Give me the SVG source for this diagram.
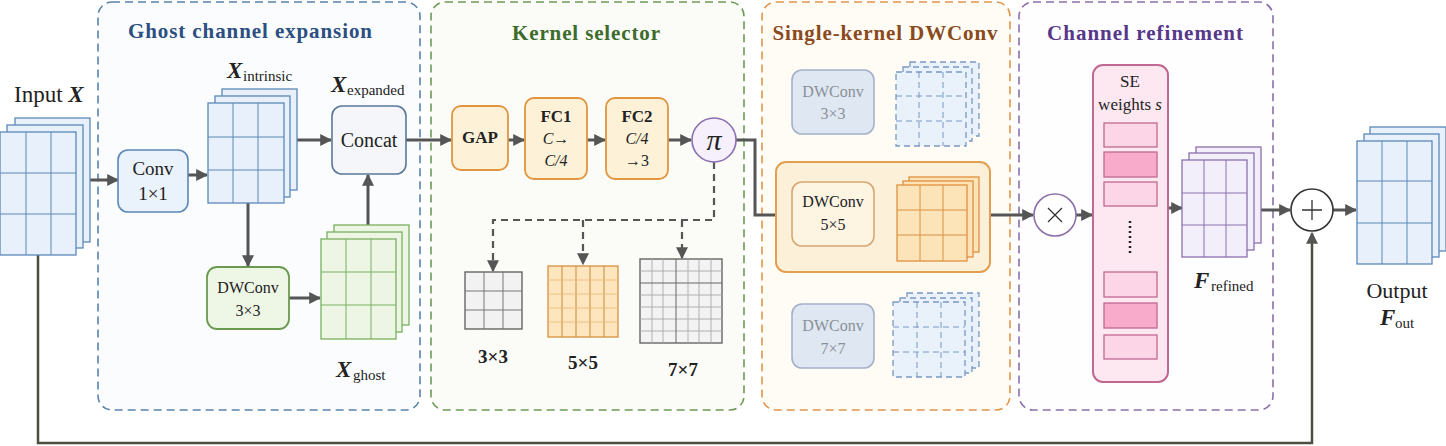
<svg xmlns="http://www.w3.org/2000/svg" width="1446" height="446" viewBox="0 0 1446 446" font-family="Times New Roman, Liberation Serif, Tinos, Nimbus Roman, FreeSerif, serif">
<defs>
<marker id="ah" viewBox="0 0 10 10" refX="9" refY="5" markerWidth="12" markerHeight="12" markerUnits="userSpaceOnUse" orient="auto"><path d="M0,0 L10,5 L0,10 z" fill="#555"/></marker>
</defs>
<style>
text{font-family:'Times New Roman','Liberation Serif',Tinos,'Nimbus Roman','FreeSerif',serif;fill:#222}
.title{font-size:21px;font-weight:bold;text-anchor:middle}
.bt{font-size:16px;text-anchor:middle}
.kl{font-size:19px;font-weight:bold;text-anchor:middle}
.bold{font-weight:bold}
.it{font-style:italic}
.conn{fill:none;stroke:#555;stroke-width:3;marker-end:url(#ah)}
.dash{fill:none;stroke:#555;stroke-width:2.2;stroke-dasharray:7,5;marker-end:url(#ah)}
.panel{stroke-width:1.6;stroke-dasharray:8,5}
.blue{fill:#e8f1fb;stroke:#5b88b8;stroke-width:1.3}
.bl{stroke:#5b88b8;stroke-width:1}
.green{fill:#edf6e5;stroke:#7ab060;stroke-width:1.3}
.gl{stroke:#7ab060;stroke-width:1}
.orng{fill:#fde3b8;stroke:#e09040;stroke-width:1.3}
.ol{stroke:#d89040;stroke-width:1}
.purp{fill:#f3effa;stroke:#8a70b0;stroke-width:1.3}
.pl{stroke:#8a70b0;stroke-width:1}
.fade{fill:#e9f1fb;stroke:#7a98c4;stroke-width:1.3;stroke-dasharray:6,4}
.fl{stroke:#7a98c4;stroke-width:1;stroke-dasharray:6,4}
.fadebox{fill:#dfe7f2;stroke:#a4b2c8;stroke-width:1.6}
.ft{fill:#8a9098}
.bar1{fill:#fcd6e6;stroke:#c06890;stroke-width:1.3}
.bar2{fill:#f9abcb;stroke:#c06890;stroke-width:1.3}
</style>

<g id="panels">
<rect id="p-ghost" class="panel" x="98" y="2" width="322" height="408" rx="14" fill="#fafcfd" stroke="#5a82ad"/>
<rect id="p-kernel" class="panel" x="431" y="2" width="313" height="408" rx="14" fill="#fbfbf7" stroke="#6d9a55"/>
<rect id="p-single" class="panel" x="762" y="2" width="248" height="408" rx="14" fill="#fffcf6" stroke="#e0954a"/>
<rect id="p-channel" class="panel" x="1019" y="2" width="254" height="408" rx="14" fill="#fefdff" stroke="#8a70a8"/>
<text class="title" x="250" y="38" textLength="244" lengthAdjust="spacing" style="fill:#2c4f82">Ghost channel expansion</text>
<text class="title" x="586" y="40" textLength="148" lengthAdjust="spacing" style="fill:#3c6b2c">Kernel selector</text>
<text class="title" x="885" y="40" textLength="225" lengthAdjust="spacing" style="fill:#8a4a1c">Single-kernel DWConv</text>
<text class="title" x="1145" y="40" textLength="196" lengthAdjust="spacing" style="fill:#56388a">Channel refinement</text>
</g>

<g id="connectors">
<path class="conn" d="M83,180 H118"/>
<path class="conn" d="M188,175 H207"/>
<path class="conn" d="M290,140 H331"/>
<path class="conn" d="M248,203 V266"/>
<path class="conn" d="M289,298 H320"/>
<path class="conn" d="M368,225 V175"/>
<path class="conn" d="M406,140 H451"/>
<path class="conn" d="M508,140 H524"/>
<path class="conn" d="M587,140 H605"/>
<path class="conn" d="M668,140 H691"/>
<path class="conn" d="M736,140 H755 V215 H791"/>
<path class="dash" d="M714,162 V220 H493 V271"/>
<path class="dash" d="M583,220 V264"/>
<path class="dash" d="M682,220 V258"/>
<path class="conn" d="M874,215 H896"/>
<path class="conn" d="M979,215 H1033"/>
<path class="conn" d="M1076,215 H1092"/>
<path class="conn" d="M1168,208 H1182"/>
<path class="conn" d="M1261,210 H1290"/>
<path class="conn" d="M1333,210 H1356"/>
<path d="M38,255 V443 H1312 V233" fill="none" stroke="#4d4d42" stroke-width="2.5" marker-end="url(#ah)"/>
</g>

<g id="input">
<text x="14" y="102" style="font-size:23px">Input <tspan class="bold it">X</tspan></text>
<rect class="blue" x="15" y="118" width="75" height="124"/>
<rect class="blue" x="7" y="125" width="76" height="123"/>
<rect class="blue" x="0" y="132" width="76" height="123"/>
<path class="bl" d="M26,132 V255 M51,132 V255 M0,173 H76 M0,214 H76"/>
</g>

<g id="conv1x1">
<rect x="118" y="150" width="70" height="62" rx="10" fill="#eaf2fb" stroke="#5b88b8" stroke-width="1.6"/>
<text class="bt" x="153" y="175" style="font-size:19px">Conv</text>
<text class="bt" x="153" y="200" style="font-size:19px">1×1</text>
</g>

<g id="x-intrinsic">
<rect class="blue" x="222" y="89" width="75" height="101"/>
<rect class="blue" x="215" y="96" width="75" height="101"/>
<rect class="blue" x="208" y="103" width="76" height="100"/>
<path class="bl" d="M233,103 V203 M258,103 V203 M208,137 H284 M208,170 H284"/>
<text x="227" y="78" style="font-size:23px" class="bold it">X</text>
<text x="243" y="81" style="font-size:15px">intrinsic</text>
</g>

<g id="concat">
<rect x="332" y="106" width="74" height="68" rx="10" fill="#f4f6f9" stroke="#5a7898" stroke-width="1.6"/>
<text class="bt" x="369" y="147" style="font-size:20px">Concat</text>
<text x="331" y="92" style="font-size:23px" class="bold it">X</text>
<text x="347" y="95" style="font-size:15px">expanded</text>
</g>

<g id="dwconv-ghost">
<rect x="207" y="267" width="82" height="62" rx="10" fill="#eef6e6" stroke="#6a9a50" stroke-width="1.8"/>
<text class="bt" x="248" y="293">DWConv</text>
<text class="bt" x="248" y="316">3×3</text>
</g>

<g id="x-ghost">
<rect class="green" x="334" y="225" width="75" height="100"/>
<rect class="green" x="327" y="232" width="75" height="100"/>
<rect class="green" x="321" y="239" width="75" height="100"/>
<path class="gl" d="M346,239 V339 M371,239 V339 M321,272 H396 M321,305 H396"/>
<text x="336" y="377" style="font-size:23px" class="bold it">X</text>
<text x="353" y="380" style="font-size:15px">ghost</text>
</g>

<g id="gap">
<rect x="452" y="106" width="56" height="64" rx="9" fill="#fdf2d8" stroke="#e0953e" stroke-width="1.8"/>
<text class="bt bold" x="480" y="143" style="font-size:17px">GAP</text>
</g>

<g id="fc1">
<rect x="525" y="98" width="62" height="81" rx="9" fill="#fdf2d8" stroke="#e0953e" stroke-width="1.8"/>
<text class="bt bold" x="556" y="122" style="font-size:17px">FC1</text>
<text class="bt it" x="556" y="144">C→</text>
<text class="bt it" x="556" y="166">C/4</text>
</g>

<g id="fc2">
<rect x="606" y="98" width="62" height="81" rx="9" fill="#fdf2d8" stroke="#e0953e" stroke-width="1.8"/>
<text class="bt bold" x="637" y="122" style="font-size:17px">FC2</text>
<text class="bt it" x="637" y="144">C/4</text>
<text class="bt" x="637" y="166">→3</text>
</g>

<g id="pi">
<circle cx="714" cy="140" r="22" fill="#f5f0fb" stroke="#8a70b0" stroke-width="1.6"/>
<text class="it" x="714" y="150" text-anchor="middle" style="font-size:30px">π</text>
</g>

<g id="k3">
<rect x="465" y="272" width="57" height="57" fill="#f2f2f2" stroke="#666" stroke-width="1.4"/>
<path d="M484,272 V329 M503,272 V329 M465,291 H522 M465,310 H522" stroke="#777" stroke-width="1"/>
<text class="kl" x="493" y="363">3×3</text>
</g>

<g id="k5">
<rect x="548" y="266" width="70" height="71" fill="#fde6bd" stroke="#d89848" stroke-width="1.4"/>
<path d="M562,266 V337 M576,266 V337 M590,266 V337 M604,266 V337" stroke="#c88a3a" stroke-width="1"/>
<path d="M548,280 H618 M548,294 H618 M548,308 H618 M548,322 H618" stroke="#e8b878" stroke-width="0.8"/>
<text class="kl" x="583" y="369">5×5</text>
</g>

<g id="k7">
<rect x="640" y="259" width="82" height="84" fill="#f3f3f3" stroke="#666" stroke-width="1.4"/>
<path d="M652,259 V343 M663,259 V343 M688,259 V343 M699,259 V343 M711,259 V343 M640,271 H722 M640,295 H722 M640,307 H722 M640,319 H722 M640,331 H722" stroke="#aaa" stroke-width="0.9"/>
<path d="M676,259 V343 M640,283 H722" stroke="#666" stroke-width="1"/>
<text class="kl" x="683" y="376">7×7</text>
</g>

<g id="dw3-faded">
<rect class="fadebox" x="792" y="70" width="82" height="64" rx="10"/>
<text class="bt ft" x="833" y="97">DWConv</text>
<text class="bt ft" x="833" y="119">3×3</text>
<rect class="fade" x="910" y="62" width="69" height="74"/>
<rect class="fade" x="903" y="67" width="69" height="74"/>
<rect class="fade" x="896" y="72" width="70" height="74"/>
<path class="fl" d="M919,72 V146 M943,72 V146 M896,96 H966 M896,121 H966"/>
</g>

<g id="dw5-selected">
<rect x="776" y="162" width="214" height="110" rx="10" fill="#fdf0d8" stroke="#e0a050" stroke-width="2"/>
<rect x="792" y="182" width="82" height="64" rx="10" fill="#fdf4e2" stroke="#d5a876" stroke-width="1.6"/>
<text class="bt" x="833" y="207">DWConv</text>
<text class="bt" x="833" y="230">5×5</text>
<rect class="orng" x="909" y="177" width="70" height="75"/>
<rect class="orng" x="903" y="181" width="70" height="76"/>
<rect class="orng" x="897" y="185" width="70" height="76"/>
<path class="ol" d="M920,185 V261 M943,185 V261 M897,210 H967 M897,235 H967"/>
</g>

<g id="dw7-faded">
<rect class="fadebox" x="792" y="304" width="82" height="64" rx="10"/>
<text class="bt ft" x="833" y="331">DWConv</text>
<text class="bt ft" x="833" y="354">7×7</text>
<rect class="fade" x="907" y="293" width="72" height="75"/>
<rect class="fade" x="900" y="298" width="72" height="75"/>
<rect class="fade" x="893" y="302" width="72" height="75"/>
<path class="fl" d="M917,302 V377 M941,302 V377 M893,327 H965 M893,352 H965"/>
</g>

<g id="mul">
<circle cx="1055" cy="215" r="21" fill="#fff" stroke="#8a70a8" stroke-width="1.6"/>
<path d="M1048,208 L1062,222 M1062,208 L1048,222" stroke="#333" stroke-width="1.3"/>
</g>

<g id="se">
<rect x="1093" y="65" width="75" height="317" rx="10" fill="#fde8f1" stroke="#c06890" stroke-width="2"/>
<text class="bt" x="1130" y="87" style="font-size:17px">SE</text>
<text class="bt" x="1130" y="110" style="font-size:17px">weights <tspan class="it">s</tspan></text>
<rect class="bar1" x="1104" y="123" width="53" height="24"/>
<rect class="bar2" x="1104" y="152" width="53" height="25"/>
<rect class="bar1" x="1104" y="182" width="53" height="24"/>
<path d="M1130,221 V253" stroke="#222" stroke-width="2.5" stroke-dasharray="2,3"/>
<rect class="bar1" x="1104" y="272" width="53" height="25"/>
<rect class="bar2" x="1104" y="303" width="53" height="25"/>
<rect class="bar1" x="1104" y="335" width="53" height="24"/>
</g>

<g id="f-refined">
<rect class="purp" x="1196" y="147" width="65" height="96"/>
<rect class="purp" x="1189" y="153" width="65" height="97"/>
<rect class="purp" x="1182" y="160" width="65" height="97"/>
<path class="pl" d="M1204,160 V257 M1226,160 V257 M1182,193 H1247 M1182,225 H1247"/>
<text x="1194" y="288" style="font-size:23px" class="bold it">F</text>
<text x="1211" y="291" style="font-size:15px">refined</text>
</g>

<g id="add">
<circle cx="1312" cy="210" r="21" fill="#fff" stroke="#333" stroke-width="1.6"/>
<path d="M1312,200 V220 M1302,210 H1322" stroke="#333" stroke-width="1.3"/>
</g>

<g id="output">
<rect class="blue" x="1370" y="127" width="76" height="124"/>
<rect class="blue" x="1364" y="134" width="75" height="123"/>
<rect class="blue" x="1357" y="141" width="75" height="123"/>
<path class="bl" d="M1382,141 V264 M1407,141 V264 M1357,181 H1432 M1357,223 H1432"/>
<text x="1397" y="298" text-anchor="middle" style="font-size:22px">Output</text>
<text x="1380" y="325" style="font-size:23px" class="bold it">F</text>
<text x="1395" y="328" style="font-size:15px">out</text>
</g>
</svg>
